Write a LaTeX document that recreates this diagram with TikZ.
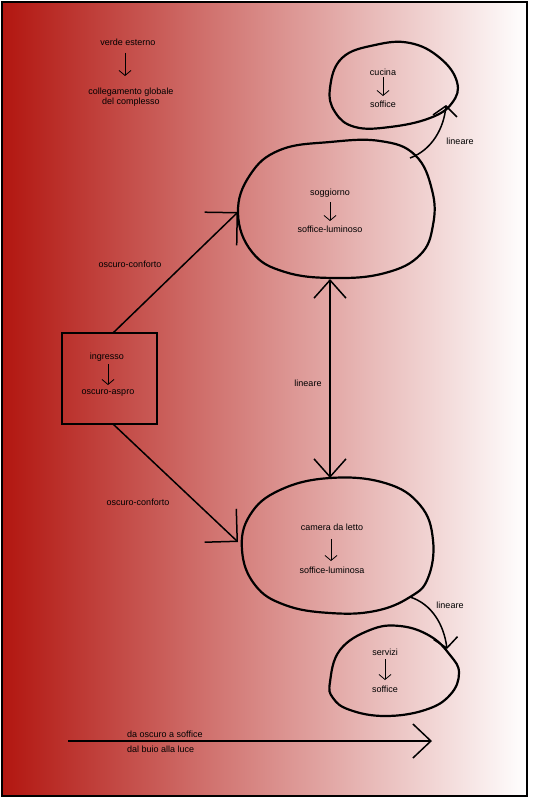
\documentclass[tikz,border=0pt]{standalone}
\usepackage{fontspec}
\setmainfont{Liberation Sans}
\usetikzlibrary{arrows.meta,shapes.geometric}
\definecolor{deepred}{RGB}{178,22,16}
\tikzset{
 lbl/.style={font=\fontsize{9}{10}\selectfont, inner sep=0pt, text=black},
 blob/.style={line width=2.2pt, line join=round},
 conn/.style={line width=1.5pt},
 bigtip/.style={-{Straight Barb[length=23pt,width=46pt,line width=1.5pt]}},
 smalltip/.style={-{Straight Barb[length=10pt,width=24pt,line width=1.5pt]}},
 dbltip/.style={{Straight Barb[length=18pt,width=32pt,line width=1.5pt]}-{Straight Barb[length=18pt,width=32pt,line width=1.5pt]}},
 longtip/.style={-{Straight Barb[length=18pt,width=34pt,line width=1.5pt]}},
 minitip/.style={-{Straight Barb[length=5pt,width=12pt,line width=0.8pt]}, line width=0.8pt},
}
\begin{document}
\begin{tikzpicture}[x=1pt,y=-1pt]
\useasboundingbox (0,0) rectangle (533,800);
\shade[left color=deepred, right color=white] (2,2) rectangle (527,796);
\draw[line width=2pt] (2,2) rectangle (527,796);

% verde esterno
\node[lbl] (ve) at (128,42) {verde esterno};
\node[lbl, align=center] (cg) at (131,97) {collegamento globale\\del complesso};
\draw[minitip] (125,53) -- (125,76);

% cucina
\draw[blob] plot[smooth cycle, tension=0.7] coordinates {(330,88) (342,58) (375,45) (410,43) (440,58) (457,82) (452,103) (430,118) (390,127) (355,127) (335,112)};
\node[lbl] (cuc) at (383,72) {cucina};
\node[lbl] (cuc2) at (383,104) {soffice};
\draw[minitip] (383,77) -- (383,96);

% soggiorno
\draw[blob] plot[smooth cycle, tension=0.7] coordinates {(238,213) (250,175) (280,150) (330,142) (380,141) (415,155) (432,190) (433,225) (420,255) (385,273) (335,278) (285,272) (252,252)};
\node[lbl] (sog) at (330,193) {soggiorno};
\node[lbl] (sog2) at (330,229) {soffice-luminoso};
\draw[minitip] (330,202) -- (330,221);

% ingresso
\node[draw, line width=2pt, minimum width=95pt, minimum height=91pt, inner sep=0pt] (ing) at (109.5,378.5) {};
\node[lbl] (ing1) at (107,357) {ingresso};
\node[lbl] (ing2) at (108,393) {oscuro-aspro};
\draw[minitip] (108,364) -- (108,385);

% camera
\draw[blob] plot[smooth cycle, tension=0.7] coordinates {(242,550) (250,515) (280,490) (330,478) (385,483) (420,505) (433,540) (428,578) (410,597) (375,611) (330,613) (285,605) (255,585)};
\node[lbl] (cam) at (332,527) {camera da letto};
\node[lbl] (cam2) at (332,570) {soffice-luminosa};
\draw[minitip] (331,539) -- (331,561);

% servizi
\draw[blob] plot[smooth cycle, tension=0.7] coordinates {(330,682) (340,650) (370,630) (400,626) (430,636) (450,655) (459,673) (450,695) (425,710) (385,716) (350,710) (333,698)};
\node[lbl] (ser) at (385,652) {servizi};
\node[lbl] (ser2) at (385,689) {soffice};
\draw[minitip] (385,659) -- (385,680);

% connector endpoints
\coordinate (ingt) at (113,333);
\coordinate (ingb) at (113,424);
\coordinate (sogw) at (238,212);
\coordinate (camw) at (238,542);
\coordinate (sogs) at (330,279);
\coordinate (camn) at (330,478);
\coordinate (sogne) at (410,158);
\coordinate (cucse) at (446,105);
\coordinate (camse) at (410,597);
\coordinate (serne) at (447,649);
\coordinate (arrs) at (68,741);
\coordinate (arre) at (432,741);

\draw[conn, bigtip] (ingt) -- (sogw);
\draw[conn, bigtip] (ingb) -- (camw);
\draw[conn, dbltip] (sogs) -- (camn);
\draw[conn, smalltip] (sogne) .. controls (432,150) and (444,128) .. (cucse);
\draw[conn, smalltip] (camse) .. controls (432,604) and (444,625) .. (serne);
\draw[conn, longtip] (arrs) -- (arre);

% labels
\node[lbl] (l1) at (130,264) {oscuro-conforto};
\node[lbl] (l2) at (138,502) {oscuro-conforto};
\node[lbl] (l3) at (308,383) {lineare};
\node[lbl] (l4) at (460,141) {lineare};
\node[lbl] (l5) at (450,605) {lineare};
\node[lbl, anchor=west] (b1) at (127,734) {da oscuro a soffice};
\node[lbl, anchor=west] (b2) at (127,749) {dal buio alla luce};
\end{tikzpicture}
\end{document}
